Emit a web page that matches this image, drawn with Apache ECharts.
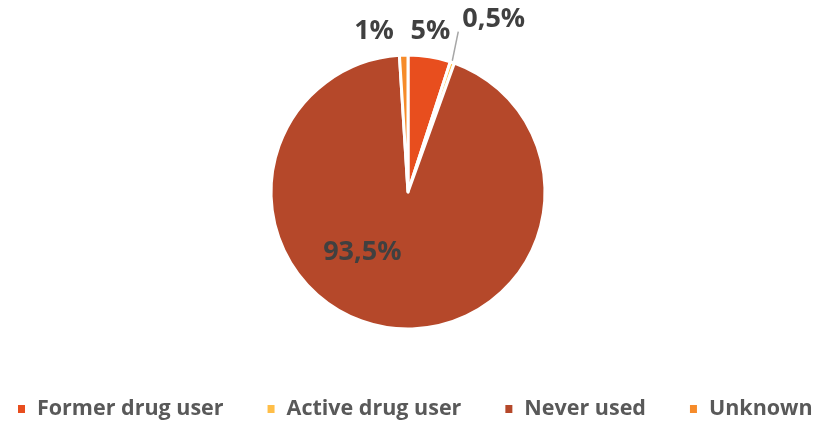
<!DOCTYPE html>
<html>
<head>
<meta charset="utf-8">
<script src="https://cdn.jsdelivr.net/npm/echarts@6/dist/echarts.min.js"></script>
<style>html,body{margin:0;padding:0;background:#fff}#c{width:817px;height:424px}</style>
</head>
<body>
<div id="c"></div>
<script>
const categories = ['Former drug user', 'Active drug user', 'Never used', 'Unknown'];
const values = [5, 0.5, 93.5, 1];
const valueLabels = ['5%', '0,5%', '93,5%', '1%'];
const colors = ['#E84E1E', '#FFBE48', '#B5482A', '#F68B2A'];

const CX = 408, CY = 192, R = 137;
const total = values.reduce((a, b) => a + b, 0);
const midAngles = [];
{ let acc = 0; values.forEach(v => { midAngles.push((acc + v / 2) / total * 2 * Math.PI); acc += v; }); }
function polar(a, r) { return [CX + r * Math.sin(a), CY - r * Math.cos(a)]; }

const chart = echarts.init(document.getElementById('c'));
chart.setOption({
  animation: false,
  color: colors,
  legend: {
    top: 398,
    left: 16,
    padding: 0,
    itemWidth: 9,
    itemHeight: 10,
    itemGap: 42,
    icon: 'rect',
    textStyle: {fontFamily: 'Open Sans', fontWeight: 'bold', fontSize: 21.5, color: '#595959', padding: [0, 0, 0, 6]},
    data: categories
  },
  series: [{
    type: 'pie',
    center: [CX, CY],
    radius: [0, R],
    startAngle: 90,
    clockwise: true,
    itemStyle: {borderColor: '#fff', borderWidth: 3},
    label: {position: 'outside', fontFamily: 'Open Sans', fontWeight: 'bold', fontSize: 27, color: '#404040'},
    labelLine: {show: false, length: 20, length2: 0, lineStyle: {color: '#A6A6A6', width: 1.5}},
    labelLayout: function (p) {
      const i = p.dataIndex;
      const a = midAngles[i];
      if (i === 0) { const q = polar(a, 162); return {x: q[0] - 3, y: q[1] - 1, align: 'center', verticalAlign: 'middle'}; }
      if (i === 3) { const q = polar(a, 161); return {x: q[0] - 9, y: q[1], align: 'right', verticalAlign: 'middle'}; }
      if (i === 2) { const q = polar(a, R / 2); return {x: q[0] - 36, y: q[1] - 8, align: 'center', verticalAlign: 'middle'}; }
      const s = polar(a, R - 3), e = polar(a - 0.026, 168);
      return {x: e[0] + 4, y: e[1] - 12, align: 'left', verticalAlign: 'middle', labelLinePoints: [s, e, e]};
    },
    data: categories.map((name, i) => ({
      name: name,
      value: values[i],
      label: {formatter: valueLabels[i]},
      labelLine: {show: i === 1}
    }))
  }]
});
</script>
</body>
</html>
